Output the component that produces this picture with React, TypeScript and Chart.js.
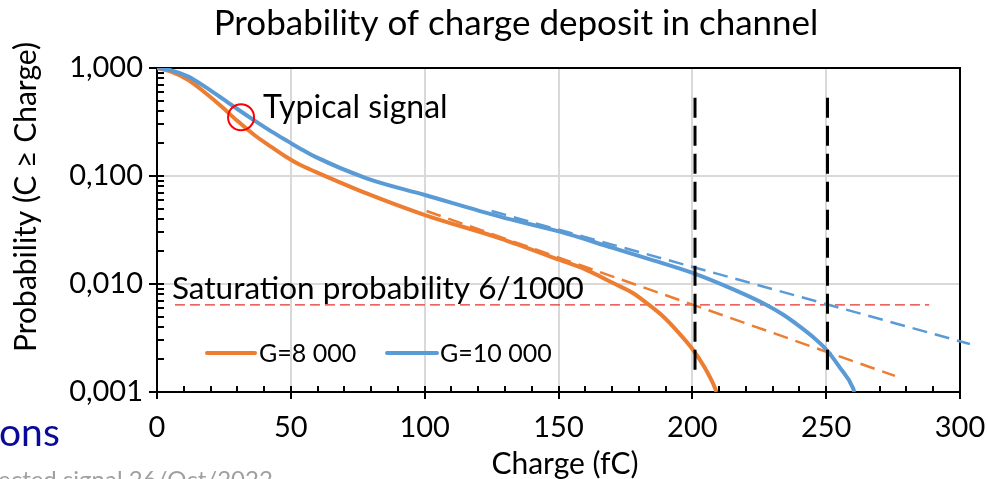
import React, { useEffect, useRef } from 'react';
import { Chart, registerables } from 'chart.js';

Chart.register(...registerables);

// ---- Data ----
const chargeG8000 = [0, 5, 11.7, 18, 24.2, 30, 36.6, 43, 49.1, 53.4, 59, 78.3, 100.1, 128.1, 150.5, 160, 170.4, 177.9, 184.2, 189.1, 194.1, 200.3, 204.5, 208.4, 209];
const probG8000 = [1.0, 0.93, 0.774, 0.59, 0.438, 0.324, 0.237, 0.184, 0.146, 0.127, 0.11, 0.069, 0.0435, 0.0265, 0.0167, 0.01365, 0.0102, 0.00822, 0.0063, 0.005, 0.00372, 0.00245, 0.0017, 0.0011, 0.001];

const chargeG10000 = [0, 5, 11.7, 18, 24.2, 30, 36.6, 43, 49.1, 53.4, 59, 78.3, 100.1, 128.1, 150.5, 170, 184.2, 200.3, 215.3, 227.7, 234, 240.2, 245, 250.2, 255, 260.1, 260.5];
const probG10000 = [1.0, 0.955, 0.832, 0.668, 0.525, 0.417, 0.324, 0.256, 0.208, 0.18, 0.151, 0.0952, 0.0667, 0.042, 0.0305, 0.0217, 0.0169, 0.0126, 0.00891, 0.0064, 0.00519, 0.00403, 0.00324, 0.00245, 0.0017, 0.00108, 0.001];

const fitG8000Charge = [100.7, 275.7];
const fitG8000Prob = [0.0474, 0.00141];
const fitG10000Charge = [125, 303.7];
const fitG10000Prob = [0.0474, 0.00278];

const saturationCharge = [6.7, 288.5];
const saturationProb = [0.0064, 0.0064];

const limitChargeA = [201, 201];
const limitChargeB = [250.5, 250.5];
const limitProb = [0.53, 0.0016];

const typicalCharge = [31.4];
const typicalProb = [0.35];

const xTickValues = [0, 50, 100, 150, 200, 250, 300];
const yTickValues = [0.001, 0.01, 0.1, 1];
const yTickLabels = ['0,001', '0,010', '0,100', '1,000'];

const seriesNames = ['G=8 000', 'G=10 000'];
const titleText = 'Probability of charge deposit in channel';
const xTitle = 'Charge (fC)';
const yTitle = 'Probability (C \u2265 Charge)';
const typicalText = 'Typical signal';
const saturationText = 'Saturation probability 6/1000';

const ORANGE = '#ED7D31';
const BLUE = '#5B9BD5';
const FONT = 'Lato, Carlito, Calibri, sans-serif';

const pts = (xs: number[], ys: number[]) => xs.map((x, i) => ({ x, y: ys[i] }));

const decorPlugin = {
  id: 'decor',
  beforeDatasetsDraw(chart: any) {
    const { ctx, chartArea: a, scales } = chart;
    const xs = scales.x;
    const ys = scales.y;
    ctx.save();
    ctx.strokeStyle = '#000';
    ctx.lineWidth = 2;
    ctx.beginPath();
    ctx.moveTo(a.left, a.top);
    ctx.lineTo(a.right, a.top);
    ctx.lineTo(a.right, a.bottom);
    ctx.stroke();
    for (let v = 0; v <= 300; v += 10) {
      const px = Math.round(xs.getPixelForValue(v));
      ctx.beginPath();
      if (v % 50 === 0) {
        ctx.moveTo(px, a.bottom - 6);
        ctx.lineTo(px, a.bottom + 7);
      } else {
        ctx.moveTo(px, a.bottom);
        ctx.lineTo(px, a.bottom - 6);
      }
      ctx.stroke();
    }
    for (let e = -3; e <= 0; e++) {
      const d = Math.pow(10, e);
      const py = Math.round(ys.getPixelForValue(d));
      ctx.beginPath();
      ctx.moveTo(a.left - 8, py);
      ctx.lineTo(a.left + 7, py);
      ctx.stroke();
      if (e < 0) {
        for (let m = 2; m <= 9; m++) {
          const pm = Math.round(ys.getPixelForValue(m * d));
          ctx.beginPath();
          ctx.moveTo(a.left, pm);
          ctx.lineTo(a.left + 7, pm);
          ctx.stroke();
        }
      }
    }
    ctx.restore();
  },
  afterDraw(chart: any) {
    const { ctx, scales } = chart;
    const xs = scales.x;
    const ys = scales.y;
    ctx.save();
    ctx.fillStyle = '#000';
    ctx.font = `35px ${FONT}`;
    ctx.textAlign = 'center';
    ctx.textBaseline = 'alphabetic';
    ctx.fillText(titleText, 516, 35);
    ctx.font = `30px ${FONT}`;
    ctx.fillText(xTitle, 565, 474);
    ctx.save();
    ctx.translate(36, 197);
    ctx.rotate(-Math.PI / 2);
    ctx.font = `30px ${FONT}`;
    ctx.textAlign = 'center';
    ctx.fillText(yTitle, 0, 0);
    ctx.restore();
    ctx.font = `32px ${FONT}`;
    ctx.textAlign = 'left';
    ctx.textBaseline = 'alphabetic';
    ctx.fillText(typicalText, xs.getPixelForValue(39.6), ys.getPixelForValue(0.344));
    ctx.font = `31.5px ${FONT}`;
    ctx.fillText(saturationText, xs.getPixelForValue(5.6), ys.getPixelForValue(0.0063) - 7);
    const ly = 353;
    const items = [
      { c: ORANGE, x0: 207, x1: 255, tx: 259, t: seriesNames[0] },
      { c: BLUE, x0: 387, x1: 437, tx: 440, t: seriesNames[1] },
    ];
    ctx.lineCap = 'round';
    items.forEach((it) => {
      ctx.strokeStyle = it.c;
      ctx.lineWidth = 4;
      ctx.beginPath();
      ctx.moveTo(it.x0, ly);
      ctx.lineTo(it.x1, ly);
      ctx.stroke();
      ctx.font = `25px ${FONT}`;
      ctx.textBaseline = 'middle';
      ctx.fillStyle = '#000';
      ctx.fillText(it.t, it.tx, ly + 1);
    });
    ctx.textBaseline = 'alphabetic';
    ctx.font = `39px ${FONT}`;
    ctx.fillStyle = '#0a0a9a';
    ctx.fillText('ons', -1, 446);
    ctx.font = `24px ${FONT}`;
    ctx.fillStyle = '#a0a0a0';
    ctx.fillText('ected signal 26/Oct/2022', -2, 488);
    ctx.restore();
  },
};

export default function App() {
  const ref = useRef<HTMLCanvasElement | null>(null);
  useEffect(() => {
    if (!ref.current) return;
    const chart = new Chart(ref.current, {
      type: 'line',
      data: {
        datasets: [
          { label: seriesNames[0], data: pts(chargeG8000, probG8000), borderColor: ORANGE, borderWidth: 4, pointRadius: 0, cubicInterpolationMode: 'monotone', order: 2 },
          { label: seriesNames[1], data: pts(chargeG10000, probG10000), borderColor: BLUE, borderWidth: 4, pointRadius: 0, cubicInterpolationMode: 'monotone', order: 1 },
          { label: 'fit8', data: pts(fitG8000Charge, fitG8000Prob), borderColor: ORANGE, borderWidth: 2.5, borderDash: [15, 8], pointRadius: 0, order: 3 },
          { label: 'fit10', data: pts(fitG10000Charge, fitG10000Prob), borderColor: BLUE, borderWidth: 2.5, borderDash: [15, 8], pointRadius: 0, clip: false, order: 3 },
          { label: 'sat', data: pts(saturationCharge, saturationProb), borderColor: '#e8302f', borderWidth: 1.3, borderDash: [10, 5], pointRadius: 0, order: 4 },
          { label: 'limA', data: pts(limitChargeA, limitProb), borderColor: '#000', borderWidth: 3, borderDash: [20, 8], pointRadius: 0, order: 0 },
          { label: 'limB', data: pts(limitChargeB, limitProb), borderColor: '#000', borderWidth: 3, borderDash: [20, 8], pointRadius: 0, order: 0 },
          {
            label: 'typical', data: pts(typicalCharge, typicalProb), showLine: false,
            pointRadius: 13, pointHoverRadius: 13, pointBorderColor: '#ff0000',
            pointBackgroundColor: 'rgba(0,0,0,0)', pointBorderWidth: 2, order: 0,
          },
        ],
      },
      options: {
        animation: false,
        responsive: false,
        events: [],
        layout: { padding: { top: 68, right: 28, left: 0, bottom: 0 } },
        plugins: { legend: { display: false }, title: { display: false }, tooltip: { enabled: false } },
        scales: {
          x: {
            type: 'linear', min: 0, max: 300,
            afterFit: (s: any) => { s.height = 87; s.paddingLeft = 0; s.paddingRight = 0; },
            afterBuildTicks: (s: any) => { s.ticks = xTickValues.map((v) => ({ value: v })); },
            ticks: { font: { family: FONT, size: 29 }, color: '#000', padding: 18, maxRotation: 0 },
            grid: { color: '#d9d9d9', lineWidth: 2, drawTicks: false },
            border: { color: '#000', width: 2 },
          },
          y: {
            type: 'logarithmic', min: 0.001, max: 1,
            afterFit: (s: any) => { s.width = 157; s.paddingTop = 0; s.paddingBottom = 0; },
            afterBuildTicks: (s: any) => { s.ticks = yTickValues.map((v) => ({ value: v })); },
            ticks: {
              font: { family: FONT, size: 29 }, color: '#000', padding: 14,
              callback: (v: any) => {
                const i = yTickValues.findIndex((t) => Math.abs(t - v) < t * 1e-6);
                return i >= 0 ? yTickLabels[i] : '';
              },
            },
            grid: { color: '#d9d9d9', lineWidth: 2, drawTicks: false },
            border: { color: '#000', width: 2 },
          },
        },
      },
      plugins: [decorPlugin],
    } as any);
    return () => chart.destroy();
  }, []);
  return (
    <div style={{ position: 'absolute', left: 0, top: 0, width: 988, height: 479, background: '#fff' }}>
      <canvas ref={ref} width={988} height={479} style={{ width: 988, height: 479 }} />
    </div>
  );
}
